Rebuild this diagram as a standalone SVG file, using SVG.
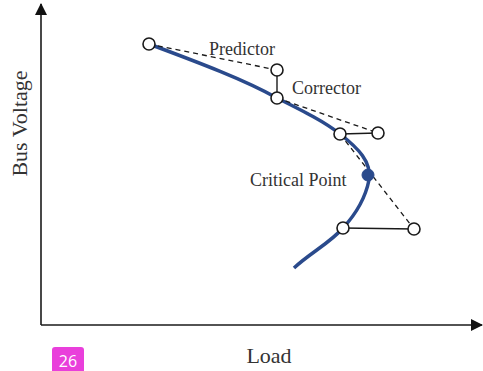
<svg xmlns="http://www.w3.org/2000/svg" width="483" height="371" viewBox="0 0 483 371">
  <style>
    .axis { stroke: #1a1a1a; stroke-width: 1.6; fill: none; }
    .curve { stroke: #2a4a8c; stroke-width: 3.5; fill: none; stroke-linecap: butt; }
    .dash { stroke: #1a1a1a; stroke-width: 1.3; stroke-dasharray: 5 4; fill: none; }
    .step { stroke: #1a1a1a; stroke-width: 1.4; fill: none; }
    .pt { fill: #ffffff; stroke: #1a1a1a; stroke-width: 1.6; }
    .crit { fill: #2a4a8c; stroke: #2a4a8c; stroke-width: 1; }
    .lbl { font-family: "Liberation Serif", "Times New Roman", serif; fill: #333333; }
    .badge-text { font-family: "Open Sans", "Noto Sans", sans-serif; fill: #ffffff; font-size: 16px; }
  </style>
  <defs>
    <marker id="arrowHead" markerWidth="12" markerHeight="12" refX="11" refY="6" orient="auto" markerUnits="userSpaceOnUse">
      <path d="M0,0 L12,6 L0,12 Z" fill="#111111"/>
    </marker>
  </defs>

  <rect width="483" height="371" fill="#ffffff"/>

  <!-- axes -->
  <g id="axes">
    <line class="axis" x1="41" y1="325" x2="41" y2="4" marker-end="url(#arrowHead)"/>
    <line class="axis" x1="41" y1="325" x2="482" y2="325" marker-end="url(#arrowHead)"/>
    <text class="lbl" font-size="22" transform="translate(27,123.5) rotate(-90)" text-anchor="middle">Bus Voltage</text>
    <text class="lbl" font-size="22" x="269" y="363" text-anchor="middle">Load</text>
  </g>

  <!-- PV curve -->
  <g id="pv-curve">
    <path class="curve" d="M149,44 C200,63 245,80 277,98 C305,112 325,122 340,134 C358,148 372,162 369,180 C365,200 355,215 343,228 C330,243 310,253 294,268"/>
  </g>

  <!-- predictor / corrector steps -->
  <g id="connectors">
    <line class="dash" x1="149" y1="44" x2="277" y2="70"/>
    <line class="step" x1="277" y1="70" x2="277" y2="98"/>
    <line class="dash" x1="277" y1="98" x2="378" y2="133"/>
    <line class="step" x1="340" y1="134" x2="378" y2="133"/>
    <line class="dash" x1="340" y1="134" x2="414" y2="229"/>
    <line class="step" x1="343" y1="228" x2="414" y2="229"/>
  </g>

  <g id="p0"><circle class="pt" cx="149" cy="44" r="6"/></g>
  <g id="p1-predicted"><circle class="pt" cx="277" cy="70" r="6"/></g>
  <g id="p1-corrected"><circle class="pt" cx="277" cy="98" r="6"/></g>
  <g id="p2-corrected"><circle class="pt" cx="340" cy="134" r="6"/></g>
  <g id="p2-predicted"><circle class="pt" cx="378" cy="133" r="6"/></g>
  <g id="p3-corrected"><circle class="pt" cx="343" cy="228" r="6"/></g>
  <g id="p3-predicted"><circle class="pt" cx="414" cy="229" r="6"/></g>
  <g id="critical-point"><circle class="crit" cx="368" cy="175" r="6"/></g>

  <!-- labels -->
  <g id="labels">
    <text class="lbl" font-size="18" x="209" y="55">Predictor</text>
    <text class="lbl" font-size="18" x="292" y="94">Corrector</text>
    <text class="lbl" font-size="18" x="250" y="186">Critical Point</text>
  </g>

  <!-- page badge -->
  <g id="badge">
    <path d="M52,371 L52,350 Q52,347 55,347 L81,347 Q84,347 84,350 L84,371 Z" fill="#e93fdb"/>
    <text class="badge-text" x="68" y="367" text-anchor="middle">26</text>
  </g>
</svg>
